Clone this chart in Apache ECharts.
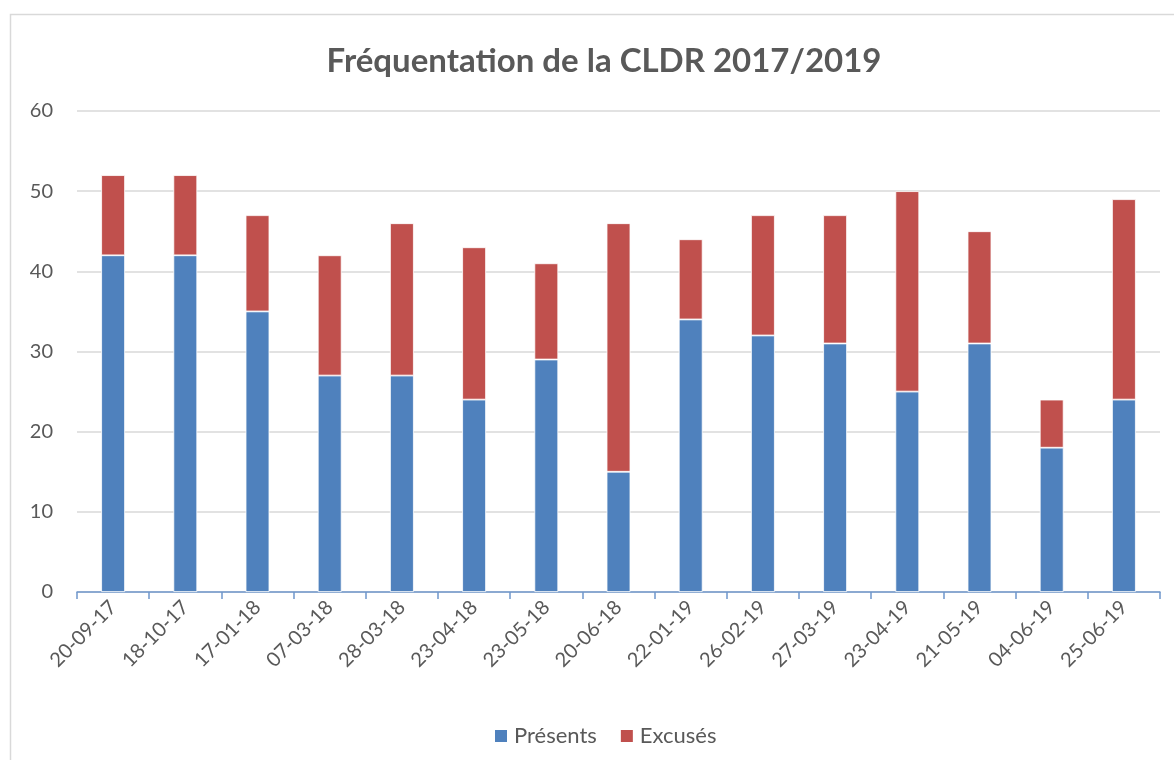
<!DOCTYPE html>
<html>
<head>
<meta charset="utf-8">
<script src="https://cdn.jsdelivr.net/npm/echarts@6/dist/echarts.min.js"></script>
<style>
  html, body { margin: 0; padding: 0; background: #fff; }
  #main { width: 1174px; height: 760px; }
</style>
</head>
<body>
<div id="main"></div>
<script>
// dates des réunions
var dates = ['20-09-17', '18-10-17', '17-01-18', '07-03-18', '28-03-18', '23-04-18', '23-05-18', '20-06-18',
  '22-01-19', '26-02-19', '27-03-19', '23-04-19', '21-05-19', '04-06-19', '25-06-19'];
var presents = [42, 42, 35, 27, 27, 24, 29, 15, 34, 32, 31, 25, 31, 18, 24];
var excuses = [10, 10, 12, 15, 19, 19, 12, 31, 10, 15, 16, 25, 14, 6, 25];

var police = 'Lato, "Open Sans", sans-serif';
var gris = '#595959';

var myChart = echarts.init(document.getElementById('main'));
myChart.setOption({
  animation: false,
  textStyle: { fontFamily: police },
  graphic: [{
    type: 'rect',
    shape: { x: 10.5, y: 14.5, width: 1200, height: 800 },
    style: { fill: 'none', stroke: '#d9d9d9', lineWidth: 1.5 },
    silent: true
  }],
  title: {
    text: 'Fréquentation de la CLDR 2017/2019',
    left: 599,
    textAlign: 'center',
    top: 40,
    textStyle: { fontFamily: police, fontSize: 33, fontWeight: 'bold', color: gris }
  },
  legend: {
    data: ['Présents', 'Excusés'],
    left: 493,
    top: 725,
    padding: 0,
    itemWidth: 14,
    itemHeight: 14,
    itemGap: 22,
    icon: 'rect',
    textStyle: { fontFamily: police, fontSize: 22, color: gris, padding: [0, 0, 0, 1] }
  },
  grid: { left: 77, right: 14, top: 111, bottom: 168, containLabel: false },
  xAxis: {
    type: 'category',
    data: dates,
    axisLine: { lineStyle: { color: '#6f97cb', width: 1.5 } },
    axisTick: { show: true, alignWithLabel: false, length: 7, lineStyle: { color: '#6f97cb', width: 1.5 } },
    axisLabel: { rotate: 45, fontSize: 20, color: gris, margin: 12, interval: 0 }
  },
  yAxis: {
    type: 'value',
    min: 0,
    max: 60,
    interval: 10,
    axisLine: { show: false },
    axisTick: { show: false },
    axisLabel: { fontSize: 20, color: gris, margin: 24 },
    splitLine: { lineStyle: { color: '#d9d9d9', width: 1.5 } }
  },
  series: [
    {
      name: 'Présents',
      type: 'bar',
      stack: 'total',
      barWidth: '33%',
      itemStyle: { color: '#4f81bd', borderColor: '#fff', borderWidth: 0.8 },
      data: presents
    },
    {
      name: 'Excusés',
      type: 'bar',
      stack: 'total',
      itemStyle: { color: '#c0504d', borderColor: '#fff', borderWidth: 0.8 },
      data: excuses
    }
  ]
});
</script>
</body>
</html>
